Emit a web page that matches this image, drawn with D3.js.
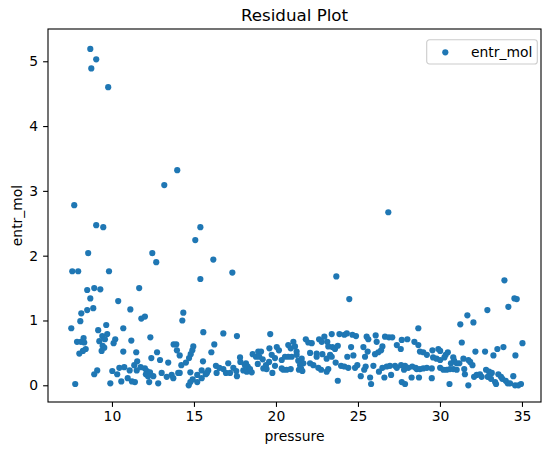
<!DOCTYPE html>
<html>
<head>
<meta charset="utf-8">
<script src="https://cdn.jsdelivr.net/npm/d3@7"></script>
<style>
body { margin: 0; background: #fff; }
text { font-family: "DejaVu Sans", sans-serif; }
</style>
</head>
<body>
<svg id="chart" width="554" height="455"></svg>
<script>
// data
var pressure = [
  8.68, 9.04, 8.74, 9.77, 13.98, 13.19, 7.70, 9.04, 9.47, 15.39, 15.08, 8.55, 12.46, 12.70, 16.18,
  7.58, 7.94, 9.82, 15.39, 17.34, 8.49, 8.92, 9.29, 11.66, 8.68, 10.38, 23.68, 26.85, 24.47, 33.93,
  34.54, 34.68, 34.17, 32.89, 31.67, 31.24, 32.04, 28.68,
  8.86, 8.49, 8.13, 11.12, 11.79, 12.01, 8.07, 7.52, 9.65, 9.16, 10.69, 9.71, 9.41, 8.27, 7.87, 8.11,
  8.31, 9.23, 9.57, 10.20, 10.10, 11.18, 12.34, 9.43, 9.53, 9.37, 8.40, 8.23, 8.01, 10.69, 11.48, 13.76,
  13.92, 13.96, 12.75, 12.40, 11.54, 12.93, 13.43, 11.36, 10.45, 10.75, 11.08, 11.51, 11.75, 12.01, 12.13,
  12.07, 12.32, 12.20, 9.10, 8.92, 10.02, 10.32, 10.96, 10.57, 11.22, 11.40, 9.90, 7.76, 12.52, 12.27,
  12.82, 13.03, 13.34, 13.64, 13.74, 14.04,
  14.35, 14.29, 15.57, 16.79, 17.62, 19.65, 14.13, 14.96, 14.90, 14.80, 14.70, 16.24, 16.06, 15.55, 14.51,
  14.23, 14.13, 14.78, 14.92, 14.68, 14.78, 15.20, 15.20, 15.47, 15.47, 15.72, 15.87, 15.79, 16.34, 16.38,
  16.55, 16.79, 17.09, 16.95, 17.20, 17.40, 17.62, 17.58, 17.81, 17.83, 18.01, 18.17, 18.28, 18.22, 18.52,
  18.58, 18.78, 18.92, 19.09, 18.98, 19.19, 18.89, 19.23, 19.39, 19.58, 19.74, 19.60, 19.43, 19.78, 20.05,
  19.94, 20.18, 19.94, 20.35, 20.45, 20.65, 20.90, 20.55, 20.75, 20.75, 20.90, 21.06, 21.16, 21.26, 21.36,
  21.40, 20.96, 21.26, 20.35, 18.42, 18.11,
  21.82, 21.97, 22.18, 22.63, 22.79, 22.95, 23.13, 23.19, 23.40, 23.44, 23.60, 23.77, 23.87, 24.17, 24.32,
  24.66, 24.88, 24.58, 24.72, 24.35, 25.53, 25.63, 25.33, 25.43, 25.59, 26.08, 26.14, 26.49, 26.41, 26.24,
  26.04, 26.65, 26.89, 27.09, 27.37, 27.61, 27.67, 28.01, 28.44, 28.68, 21.57, 21.67, 21.47, 21.53, 21.61,
  22.08, 22.28, 22.48, 22.48, 22.08, 22.58, 22.75, 22.83, 23.09, 23.30, 23.40, 23.64, 23.09, 23.19, 23.97,
  24.17, 24.41, 23.77, 24.82, 24.96, 25.17, 25.47, 25.38, 25.74, 25.80, 25.94, 26.28, 26.49, 26.61, 26.75,
  27.02, 27.26, 26.95, 27.37, 27.63, 27.81, 27.87, 28.07, 28.31, 28.52, 27.67, 27.87, 28.27, 28.72, 28.58,
  28.78, 28.98, 29.20, 29.54, 29.90, 30.01, 29.58, 29.79, 30.01, 30.48, 30.35, 30.27, 30.81, 30.86, 30.67,
  31.02, 31.18, 31.43, 31.73, 31.84, 31.98, 31.33, 35.03, 33.87, 33.50, 32.75, 32.16, 33.26, 34.60, 28.78,
  28.98, 29.20, 29.50, 30.01, 30.21, 30.41, 30.61, 30.81, 31.02, 31.48, 31.52, 32.08, 32.24, 32.44, 32.54,
  32.81, 32.99, 33.16, 32.91, 33.11, 33.36, 33.42, 33.56, 33.72, 33.80, 34.01, 34.13, 34.27, 34.47, 34.58,
  34.78, 34.94, 29.50, 30.58, 31.73
];
var entrMol = [
  5.19, 5.03, 4.89, 4.60, 3.32, 3.09, 2.78, 2.47, 2.44, 2.44, 2.24, 2.04, 2.04, 1.90, 1.94,
  1.76, 1.76, 1.76, 1.64, 1.74, 1.47, 1.50, 1.48, 1.50, 1.34, 1.30, 1.68, 2.67, 1.33, 1.62,
  1.34, 1.33, 1.21, 1.16, 1.08, 0.94, 0.97, 0.88,
  1.19, 1.16, 1.11, 1.17, 1.03, 1.06, 0.99, 0.88, 0.93, 0.85, 0.88, 0.79, 0.76, 0.73, 0.67, 0.67,
  0.66, 0.68, 0.71, 0.71, 0.65, 0.69, 0.74, 0.61, 0.58, 0.53, 0.56, 0.53, 0.49, 0.52, 0.51, 0.63,
  0.63, 0.54, 0.51, 0.42, 0.37, 0.39, 0.35, 0.31, 0.27, 0.28, 0.23, 0.23, 0.28, 0.26, 0.22,
  0.17, 0.20, 0.14, 0.23, 0.17, 0.22, 0.17, 0.11, 0.06, 0.06, 0.05, 0.03, 0.02, 0.14, 0.05,
  0.03, 0.19, 0.13, 0.16, 0.11, 0.19,
  1.12, 1.00, 0.82, 0.80, 0.76, 0.79, 0.46, 0.60, 0.54, 0.48, 0.42, 0.63, 0.51, 0.37, 0.35,
  0.31, 0.19, 0.20, 0.09, 0.00, 0.05, 0.16, 0.05, 0.23, 0.11, 0.17, 0.23, 0.19, 0.30, 0.19,
  0.27, 0.25, 0.34, 0.19, 0.19, 0.27, 0.14, 0.22, 0.43, 0.36, 0.23, 0.34, 0.29, 0.21, 0.20,
  0.48, 0.44, 0.52, 0.52, 0.44, 0.40, 0.33, 0.26, 0.31, 0.36, 0.47, 0.57, 0.25, 0.19, 0.59,
  0.42, 0.54, 0.30, 0.39, 0.24, 0.24, 0.25, 0.44, 0.44, 0.62, 0.57, 0.67, 0.60, 0.52, 0.38,
  0.24, 0.44, 0.47, 0.26, 0.25, 0.31,
  0.71, 0.66, 0.65, 0.71, 0.67, 0.75, 0.67, 0.60, 0.79, 0.59, 0.56, 0.61, 0.79, 0.78, 0.80,
  0.78, 0.76, 0.59, 0.46, 0.44, 0.75, 0.71, 0.59, 0.44, 0.52, 0.77, 0.67, 0.60, 0.54, 0.51,
  0.48, 0.75, 0.74, 0.74, 0.62, 0.56, 0.70, 0.71, 0.67, 0.62, 0.41, 0.34, 0.31, 0.26, 0.22,
  0.34, 0.31, 0.49, 0.44, 0.50, 0.27, 0.24, 0.48, 0.41, 0.47, 0.44, 0.35, 0.21, 0.25, 0.30,
  0.29, 0.27, 0.07, 0.27, 0.31, 0.14, 0.29, 0.24, 0.12, 0.02, 0.30, 0.21, 0.27, 0.12, 0.29,
  0.16, 0.30, 0.30, 0.27, 0.31, 0.24, 0.30, 0.27, 0.29, 0.27, 0.05, 0.02, 0.12, 0.12, 0.25,
  0.52, 0.51, 0.47, 0.54, 0.56, 0.53, 0.43, 0.41, 0.39, 0.51, 0.47, 0.43, 0.43, 0.38, 0.34,
  0.34, 0.34, 0.41, 0.39, 0.36, 0.31, 0.66, 0.65, 0.59, 0.56, 0.52, 0.52, 0.46, 0.46, 0.25,
  0.26, 0.27, 0.26, 0.27, 0.24, 0.24, 0.25, 0.25, 0.24, 0.25, 0.17, 0.13, 0.16, 0.17, 0.13,
  0.24, 0.21, 0.19, 0.13, 0.10, 0.05, 0.02, 0.17, 0.13, 0.10, 0.07, 0.03, 0.03, 0.14, 0.00,
  0.00, 0.02, 0.11, 0.02, 0.00
];
var xTicks = [10, 15, 20, 25, 30, 35];
var yTicks = [0, 1, 2, 3, 4, 5];
var xLimits = [6.10, 36.16];
var yLimits = [-0.258, 5.498];
var seriesName = "entr_mol";

var data = pressure.map(function(p, i) { return {pressure: p, entr: entrMol[i]}; });

// axes box, like matplotlib's default figure
var margin = {top: 29, left: 48},
    width = 493,
    height = 373;

var svg = d3.select("#chart");
var g = svg.append("g")
    .attr("transform", "translate(" + margin.left + "," + margin.top + ")");

var x = d3.scaleLinear().domain(xLimits).range([0, width]);
var y = d3.scaleLinear().domain(yLimits).range([height, 0]);

// points
g.selectAll("circle.dot")
    .data(data)
  .enter().append("circle")
    .attr("class", "dot")
    .attr("cx", function(d) { return x(d.pressure); })
    .attr("cy", function(d) { return y(d.entr); })
    .attr("r", 3.1)
    .attr("fill", "#1f77b4");

// x axis
var xAxis = g.append("g")
    .attr("transform", "translate(0," + height + ")")
    .call(d3.axisBottom(x).tickValues(xTicks).tickFormat(d3.format("d"))
      .tickSize(4.9).tickPadding(4.4).tickSizeOuter(0));
// y axis
var yAxis = g.append("g")
    .call(d3.axisLeft(y).tickValues(yTicks).tickFormat(d3.format("d"))
      .tickSize(4.9).tickPadding(4.9).tickSizeOuter(0));

[xAxis, yAxis].forEach(function(a) {
  a.select(".domain").remove();
  a.selectAll("line").attr("stroke", "#000").attr("stroke-width", 1.1);
  a.selectAll("text")
      .attr("fill", "#000")
      .style("font-family", "'DejaVu Sans', sans-serif")
      .style("font-size", "13.9px");
});

// spines
g.append("rect")
    .attr("x", 0)
    .attr("y", 0)
    .attr("width", width)
    .attr("height", height)
    .attr("fill", "none")
    .attr("stroke", "#000")
    .attr("stroke-width", 1.1);

// title and labels
svg.append("text")
    .attr("x", margin.left + width / 2)
    .attr("y", 21)
    .attr("text-anchor", "middle")
    .style("font-size", "16.7px")
    .text("Residual Plot");

svg.append("text")
    .attr("x", margin.left + width / 2)
    .attr("y", 441)
    .attr("text-anchor", "middle")
    .style("font-size", "13.9px")
    .text("pressure");

svg.append("text")
    .attr("transform", "translate(22," + (margin.top + height / 2) + ") rotate(-90)")
    .attr("text-anchor", "middle")
    .style("font-size", "13.9px")
    .text("entr_mol");

// legend
var legend = g.append("g")
    .attr("transform", "translate(" + (width - 114.3) + ",10.7)");

legend.append("rect")
    .attr("width", 110.6)
    .attr("height", 24.3)
    .attr("rx", 2.8)
    .attr("fill", "#fff")
    .attr("fill-opacity", 0.8)
    .attr("stroke", "#cccccc")
    .attr("stroke-width", 1.1);

legend.append("circle")
    .attr("cx", 18.6)
    .attr("cy", 12.6)
    .attr("r", 3.1)
    .attr("fill", "#1f77b4");

legend.append("text")
    .attr("x", 44.3)
    .attr("y", 17.4)
    .style("font-size", "13.9px")
    .text(seriesName);
</script>
</body>
</html>
